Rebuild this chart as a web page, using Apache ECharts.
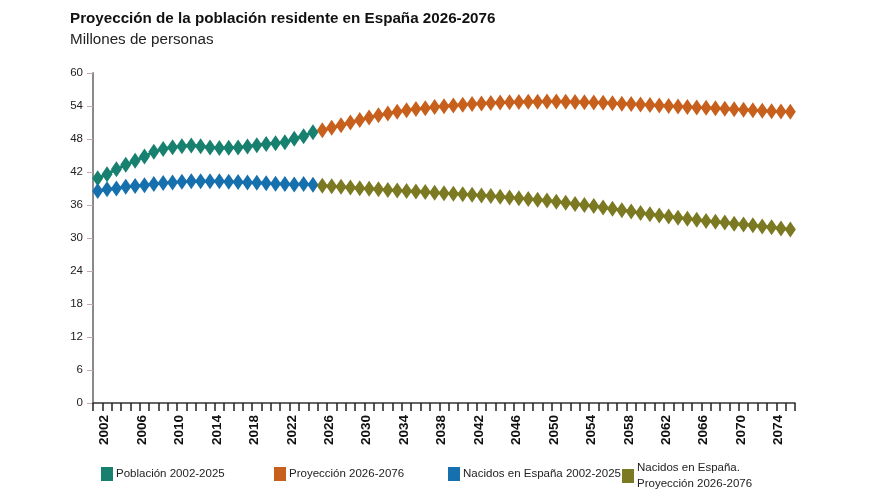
<!DOCTYPE html>
<html>
<head>
<meta charset="utf-8">
<title>Proyección de la población residente en España 2026-2076</title>
<script src="https://cdn.jsdelivr.net/npm/echarts@6/dist/echarts.min.js"></script>
<style>
  html, body { margin: 0; padding: 0; background: #fff; }
  #chart { width: 875px; height: 500px; }
</style>
</head>
<body>
<div id="chart"></div>
<script>
// años 2002-2076
var years = [];
for (var y = 2002; y <= 2076; y++) years.push(String(y));

var yTicks = [0, 6, 12, 18, 24, 30, 36, 42, 48, 54, 60];

// Población residente 2002-2025 (millones)
var poblacion = [40.85, 41.6, 42.5, 43.3, 44.05, 44.8, 45.7, 46.2, 46.5, 46.7,
    46.8, 46.7, 46.45, 46.35, 46.4, 46.45, 46.65, 46.85, 47.1, 47.25,
    47.4, 48.05, 48.5, 49.25];

// Proyección 2026-2076
var proyeccion = [49.6, 50.05, 50.5, 51.0, 51.45, 51.9, 52.3, 52.65, 52.95, 53.25,
    53.45, 53.6, 53.8, 53.95, 54.1, 54.25, 54.35, 54.45, 54.55, 54.62,
    54.68, 54.72, 54.76, 54.78, 54.8, 54.8, 54.78, 54.75, 54.7, 54.65,
    54.58, 54.5, 54.43, 54.35, 54.27, 54.18, 54.1, 54.0, 53.92, 53.83,
    53.75, 53.66, 53.57, 53.48, 53.4, 53.3, 53.22, 53.14, 53.06, 53.0,
    52.95];

// Nacidos en España 2002-2025
var nacidos = [38.55, 38.85, 39.0, 39.3, 39.45, 39.6, 39.8, 40.0, 40.1, 40.25,
    40.3, 40.3, 40.3, 40.3, 40.25, 40.2, 40.1, 40.05, 39.95, 39.85,
    39.8, 39.75, 39.8, 39.7];

// Nacidos en España. Proyección 2026-2076
var nacidosProy = [39.5, 39.4, 39.3, 39.2, 39.05, 38.95, 38.85, 38.75, 38.65, 38.55,
    38.45, 38.35, 38.25, 38.15, 38.05, 37.95, 37.85, 37.75, 37.63, 37.5,
    37.38, 37.25, 37.1, 36.95, 36.8, 36.6, 36.4, 36.2, 36.0, 35.8,
    35.55, 35.3, 35.05, 34.8, 34.55, 34.3, 34.1, 33.9, 33.7, 33.5,
    33.3, 33.1, 32.95, 32.8, 32.6, 32.45, 32.3, 32.1, 31.95, 31.75,
    31.55];

var nombres = ['Población 2002-2025', 'Proyección 2026-2076',
    'Nacidos en España 2002-2025', 'Nacidos en España.\nProyección 2026-2076'];
var colores = ['#17806f', '#c7601c', '#1670ad', '#7b7922'];

function pad(values, startYear) {
    var out = [];
    for (var i = 0; i < years.length; i++) {
        var k = Number(years[i]) - startYear;
        out.push(k >= 0 && k < values.length ? values[k] : '-');
    }
    return out;
}

var datos = [pad(poblacion, 2002), pad(proyeccion, 2026), pad(nacidos, 2002), pad(nacidosProy, 2026)];

var series = nombres.map(function (n, i) {
    return {
        name: n,
        type: 'line',
        data: datos[i],
        color: colores[i],
        symbol: 'diamond',
        symbolSize: [11, 16],
        showAllSymbol: true,
        lineStyle: { width: 3, color: colores[i] },
        itemStyle: { color: colores[i] },
        emphasis: { disabled: true },
        animation: false
    };
});

var legendLeft = [96, 269, 443, 617];
var legends = nombres.map(function (n, i) {
    return {
        left: legendLeft[i],
        top: i === 3 ? 455 : 461,
        data: [n],
        icon: 'rect',
        itemWidth: 12,
        itemHeight: 14,
        itemGap: 3,
        selectedMode: false,
        textStyle: {
            fontFamily: 'Liberation Sans, Arial, sans-serif',
            fontSize: 11.5,
            color: '#222',
            lineHeight: 16,
            padding: [0, 0, 0, -2]
        }
    };
});

var chart = echarts.init(document.getElementById('chart'));
chart.setOption({
    animation: false,
    backgroundColor: '#fff',
    title: {
        text: 'Proyección de la población residente en España 2026-2076',
        subtext: 'Millones de personas',
        left: 65,
        top: 6,
        itemGap: 6,
        textStyle: {
            fontFamily: 'Liberation Sans, Arial, sans-serif',
            fontSize: 15.2,
            fontWeight: 'bold',
            color: '#111'
        },
        subtextStyle: {
            fontFamily: 'Liberation Sans, Arial, sans-serif',
            fontSize: 15.2,
            color: '#222'
        }
    },
    legend: legends,
    grid: { left: 93, right: 80, top: 73, bottom: 97, containLabel: false },
    xAxis: {
        type: 'category',
        data: years,
        boundaryGap: true,
        axisLine: { lineStyle: { color: '#333', width: 1.5 } },
        axisTick: { show: true, interval: 0, length: 8, lineStyle: { color: '#222', width: 1.5 } },
        axisLabel: {
            interval: 3,
            rotate: 90,
            margin: 12,
            verticalAlign: 'top',
            fontFamily: 'Liberation Sans, Arial, sans-serif',
            fontSize: 13.5,
            fontWeight: 'bold',
            color: '#111'
        },
        splitLine: { show: false }
    },
    yAxis: {
        type: 'value',
        min: 0,
        max: 60,
        interval: 6,
        axisLine: { show: true, lineStyle: { color: '#8a8a8a', width: 2 } },
        axisTick: { show: true, length: 6, lineStyle: { color: '#c9a8a8', width: 1 } },
        axisLabel: {
            margin: 10,
            fontFamily: 'Liberation Sans, Arial, sans-serif',
            fontSize: 11.5,
            color: '#222',
            formatter: function (v) { return yTicks.indexOf(v) >= 0 ? String(v) : ''; }
        },
        splitLine: { show: false }
    },
    series: series
});
</script>
</body>
</html>
